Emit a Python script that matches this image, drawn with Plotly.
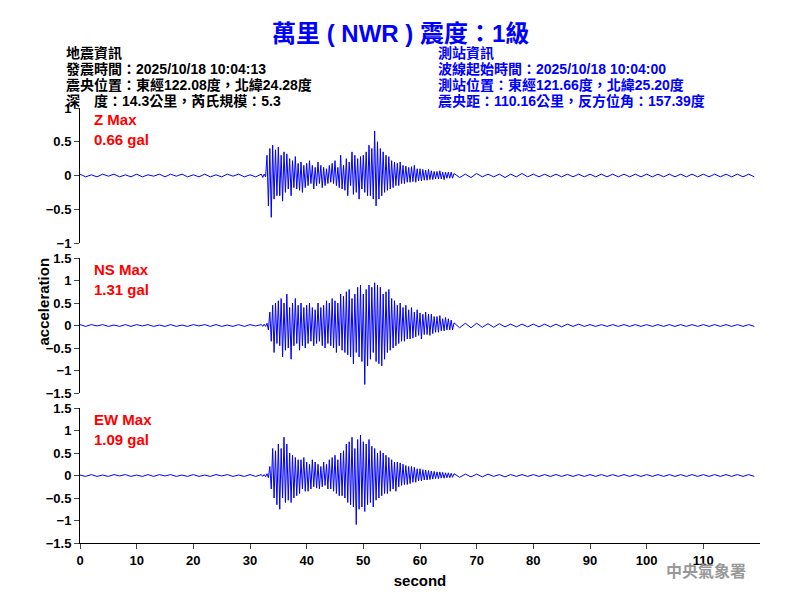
import numpy as np
import plotly.graph_objects as go

# seismogram samples (gal): 1 s steps before 32 s, 0.25 s steps 32-66 s, 1 s steps after
z_early = [0.02, -0.02, 0.01, -0.02, 0.02, -0.01, 0.02, -0.02, 0.01, -0.02, 0.02, -0.02, 0.01, -0.01, 0.02, -0.02,
           0.02, -0.01, 0.02, -0.02, 0.01, -0.02, 0.02, -0.02, 0.01, -0.02, 0.02, -0.01, 0.02, -0.02, 0.01, -0.02]
z_act = [0.02, -0.03, 0.02, -0.02, 0.3, -0.45, 0.4, -0.62, 0.45, -0.35, 0.38, -0.3, 0.42, -0.3, 0.3, -0.38,
         0.35, -0.25, 0.32, -0.2, 0.25, -0.3, 0.22, -0.18, 0.28, -0.2, 0.18, -0.22, 0.2, -0.25, 0.15, -0.18,
         0.18, -0.15, 0.22, -0.12, 0.15, -0.2, 0.12, -0.15, 0.2, -0.12, 0.15, -0.18, 0.12, -0.15, 0.1, -0.12,
         0.15, -0.1, 0.18, -0.12, 0.22, -0.15, 0.12, -0.18, 0.3, -0.2, 0.15, -0.22, 0.25, -0.3, 0.2, -0.15,
         0.35, -0.28, 0.3, -0.25, 0.25, -0.35, 0.28, -0.2, 0.3, -0.25, 0.35, -0.3, 0.45, -0.3, 0.4, -0.35,
         0.66, -0.45, 0.5, -0.35, 0.4, -0.3, 0.35, -0.25, 0.3, -0.22, 0.28, -0.2, 0.22, -0.18, 0.2, -0.15,
         0.18, -0.15, 0.2, -0.12, 0.15, -0.12, 0.14, -0.1, 0.12, -0.1, 0.13, -0.09, 0.15, -0.1, 0.1, -0.08,
         0.1, -0.08, 0.09, -0.07, 0.08, -0.07, 0.09, -0.06, 0.07, -0.06, 0.06, -0.05, 0.06, -0.05, 0.07, -0.05,
         0.05, -0.06, 0.05, -0.04, 0.05, -0.04, 0.05, -0.04]
z_late = [0.03, -0.03, 0.02, -0.03, 0.03, -0.02, 0.02, -0.02, 0.02, -0.03, 0.02, -0.02, 0.03, -0.02, 0.02, -0.02,
          0.02, -0.02, 0.02, -0.02, 0.02, -0.02, 0.02, -0.02, 0.02, -0.02, 0.02, -0.02, 0.02, -0.02, 0.02, -0.02,
          0.02, -0.02, 0.02, -0.02, 0.02, -0.02, 0.02, -0.02, 0.02, -0.02, 0.02, -0.02, 0.02, -0.02, 0.02, -0.02,
          0.02, -0.02, 0.02, -0.02, 0.02, -0.02]

ns_early = [0.02, -0.02, 0.02, -0.01, 0.02, -0.02, 0.01, -0.02, 0.02, -0.02, 0.02, -0.01, 0.02, -0.02, 0.01, -0.02,
            0.02, -0.02, 0.01, -0.02, 0.02, -0.01, 0.02, -0.02, 0.02, -0.02, 0.01, -0.02, 0.02, -0.02, 0.02, -0.01]
ns_act = [0.02, -0.02, 0.03, -0.02, 0.05, -0.1, 0.3, -0.35, 0.45, -0.6, 0.5, -0.4, 0.55, -0.45, 0.6, -0.7,
          0.5, -0.55, 0.7, -0.5, 0.4, -0.75, 0.5, -0.45, 0.6, -0.4, 0.45, -0.55, 0.5, -0.45, 0.4, -0.5,
          0.45, -0.4, 0.5, -0.35, 0.4, -0.45, 0.35, -0.4, 0.5, -0.35, 0.4, -0.45, 0.45, -0.5, 0.55, -0.4,
          0.5, -0.45, 0.6, -0.5, 0.55, -0.6, 0.5, -0.45, 0.7, -0.55, 0.65, -0.6, 0.75, -0.65, 0.8, -0.7,
          0.6, -0.85, 0.7, -0.6, 0.85, -0.7, 0.9, -0.8, 0.7, -1.31, 0.8, -0.9, 0.9, -0.75, 0.85, -0.6,
          0.95, -0.8, 0.9, -0.85, 0.85, -0.9, 0.7, -0.75, 0.75, -0.6, 0.8, -0.55, 0.6, -0.5, 0.55, -0.45,
          0.45, -0.4, 0.5, -0.35, 0.4, -0.35, 0.45, -0.3, 0.35, -0.3, 0.4, -0.28, 0.3, -0.25, 0.35, -0.22,
          0.28, -0.3, 0.25, -0.2, 0.3, -0.2, 0.25, -0.22, 0.25, -0.18, 0.2, -0.15, 0.2, -0.15, 0.22, -0.12,
          0.15, -0.12, 0.18, -0.1, 0.15, -0.1, 0.12, -0.1]
ns_late = [0.06, -0.05, 0.05, -0.05, 0.05, -0.04, 0.04, -0.04, 0.04, -0.03, 0.03, -0.03, 0.03, -0.03, 0.03, -0.03,
           0.03, -0.03, 0.03, -0.03, 0.03, -0.02, 0.03, -0.02, 0.02, -0.02, 0.02, -0.02, 0.02, -0.02, 0.02, -0.02,
           0.02, -0.02, 0.02, -0.02, 0.02, -0.02, 0.02, -0.02, 0.02, -0.02, 0.02, -0.02, 0.02, -0.02, 0.02, -0.02,
           0.02, -0.02, 0.02, -0.02, 0.02, -0.02]

ew_early = [0.01, -0.02, 0.02, -0.02, 0.01, -0.02, 0.02, -0.01, 0.02, -0.02, 0.01, -0.02, 0.02, -0.02, 0.02, -0.01,
            0.02, -0.02, 0.01, -0.02, 0.02, -0.02, 0.01, -0.02, 0.02, -0.01, 0.02, -0.02, 0.01, -0.02, 0.02, -0.02]
ew_act = [0.02, -0.02, 0.02, -0.03, 0.04, -0.05, 0.2, -0.3, 0.6, -0.5, 0.55, -0.65, 0.7, -0.75, 0.6, -0.5,
          0.85, -0.6, 0.7, -0.55, 0.5, -0.6, 0.45, -0.5, 0.4, -0.45, 0.35, -0.4, 0.35, -0.3, 0.4, -0.35,
          0.3, -0.35, 0.25, -0.3, 0.35, -0.25, 0.3, -0.28, 0.25, -0.3, 0.2, -0.25, 0.3, -0.22, 0.25, -0.3,
          0.35, -0.3, 0.4, -0.35, 0.45, -0.4, 0.35, -0.45, 0.5, -0.45, 0.55, -0.5, 0.7, -0.6, 0.75, -0.65,
          0.85, -0.7, 0.6, -1.09, 0.8, -0.75, 0.9, -0.7, 0.75, -0.8, 0.7, -0.65, 0.8, -0.6, 0.65, -0.7,
          0.6, -0.55, 0.5, -0.5, 0.55, -0.45, 0.5, -0.4, 0.45, -0.4, 0.4, -0.35, 0.35, -0.3, 0.3, -0.35,
          0.3, -0.25, 0.28, -0.22, 0.25, -0.2, 0.22, -0.2, 0.2, -0.18, 0.2, -0.15, 0.18, -0.15, 0.15, -0.12,
          0.15, -0.12, 0.13, -0.1, 0.12, -0.1, 0.11, -0.09, 0.1, -0.08, 0.09, -0.07, 0.08, -0.07, 0.08, -0.06,
          0.07, -0.06, 0.06, -0.05, 0.06, -0.05, 0.05, -0.04]
ew_late = [0.04, -0.04, 0.03, -0.03, 0.03, -0.03, 0.03, -0.02, 0.02, -0.03, 0.02, -0.02, 0.02, -0.02, 0.02, -0.02,
           0.02, -0.02, 0.02, -0.02, 0.02, -0.02, 0.02, -0.02, 0.02, -0.02, 0.02, -0.02, 0.02, -0.02, 0.02, -0.02,
           0.02, -0.02, 0.02, -0.02, 0.02, -0.02, 0.02, -0.02, 0.02, -0.02, 0.02, -0.02, 0.02, -0.02, 0.02, -0.02,
           0.02, -0.02, 0.02, -0.02, 0.02, -0.02]

comp_names = ["Z", "NS", "EW"]
comp_max = ["0.66", "1.31", "1.09"]
y_ranges = [[-1, 1], [-1.5, 1.5], [-1.5, 1.5]]

info_left = ["地震資訊", "發震時間：2025/10/18 10:04:13", "震央位置：東經122.08度，北緯24.28度",
             "深　度：14.3公里，芮氏規模：5.3"]
info_right = ["測站資訊", "波線起始時間：2025/10/18 10:04:00", "測站位置：東經121.66度，北緯25.20度",
              "震央距：110.16公里，反方位角：157.39度"]


def times(early, act, late):
    t1 = np.arange(len(early)) * 1.0
    t2 = 32 + np.arange(len(act)) * 0.25
    t3 = 66 + np.arange(len(late)) * 1.0
    return np.concatenate([t1, t2, t3]), np.array(early + act + late)


# the page has an 8px body margin, so pixel positions are shifted by 8
def px(x):
    return (x - 8) / 800


def py(y):
    return 1 - (y - 8) / 600


traces = [times(z_early, z_act, z_late), times(ns_early, ns_act, ns_late), times(ew_early, ew_act, ew_late)]
panels = [(108, 243), (258, 393), (408, 543)]

fig = go.Figure()
font = "Liberation Sans, Arial, sans-serif"
cjk = "Liberation Sans, Noto Sans CJK TC"
tickfont = dict(size=13, color="black", family=font, weight="bold")

for i, (t, v) in enumerate(traces):
    n = "" if i == 0 else str(i + 1)
    fig.add_trace(go.Scatter(x=t, y=v, mode="lines", line=dict(color="#0000ff", width=1),
                             xaxis="x" + n, yaxis="y" + n, showlegend=False))
    yr = y_ranges[i]
    top, bot = panels[i]
    fig.layout["yaxis" + n] = dict(domain=[py(bot), py(top)], range=yr,
                                   tickvals=list(np.arange(yr[0], yr[1] + 0.01, 0.5)),
                                   ticks="outside", ticklen=5, showline=True, linecolor="black", showgrid=False,
                                   zeroline=False, anchor="x" + n, automargin=False, tickfont=tickfont)
    fig.layout["xaxis" + n] = dict(domain=[px(80), px(760)], range=[0, 120], anchor="y" + n, showgrid=False,
                                   zeroline=False, showline=(i == 2), linecolor="black", automargin=False,
                                   ticks="outside" if i == 2 else "", showticklabels=(i == 2),
                                   tickvals=list(range(0, 120, 10)), ticklen=5, tickfont=tickfont)
    fig.add_annotation(x=px(92), y=py(top + 1), xref="paper", yref="paper", xanchor="left", yanchor="top",
                       showarrow=False, align="left", font=dict(size=15, color="#ff0000", family=font, weight="bold"),
                       text=f"{comp_names[i]} Max<br>{comp_max[i]} gal")

fig.layout.xaxis3.title = dict(text="<b>second</b>", font=dict(size=15, family=font, color="black"), standoff=8)

fig.add_annotation(x=px(32), y=py(302), xref="paper", yref="paper", textangle=-90, showarrow=False,
                   text="<b>acceleration</b>", font=dict(size=15, family=font, color="black"))
fig.add_annotation(x=px(400), y=py(18), xref="paper", yref="paper", showarrow=False,
                   text="<b>萬里 ( NWR ) 震度：1級</b>", font=dict(size=24, family=cjk, color="#0000ff"))
for k in range(4):
    yk = py(43 + 16 * k)
    fig.add_annotation(x=px(64), y=yk, xref="paper", yref="paper", xanchor="left", showarrow=False,
                       text="<b>" + info_left[k] + "</b>", font=dict(size=14, family=cjk, color="black"))
    fig.add_annotation(x=px(436), y=yk, xref="paper", yref="paper", xanchor="left", showarrow=False,
                       text="<b>" + info_right[k] + "</b>", font=dict(size=14, family=cjk, color="#0000ff"))
fig.add_annotation(x=px(748), y=py(582), xref="paper", yref="paper", xanchor="right", showarrow=False,
                   text="<b>中央氣象署</b>", font=dict(size=16, family=cjk, color="#999999"))

fig.update_layout(width=800, height=600, margin=dict(l=0, r=0, t=0, b=0),
                  plot_bgcolor="white", paper_bgcolor="white")
fig.write_html("out.html")
